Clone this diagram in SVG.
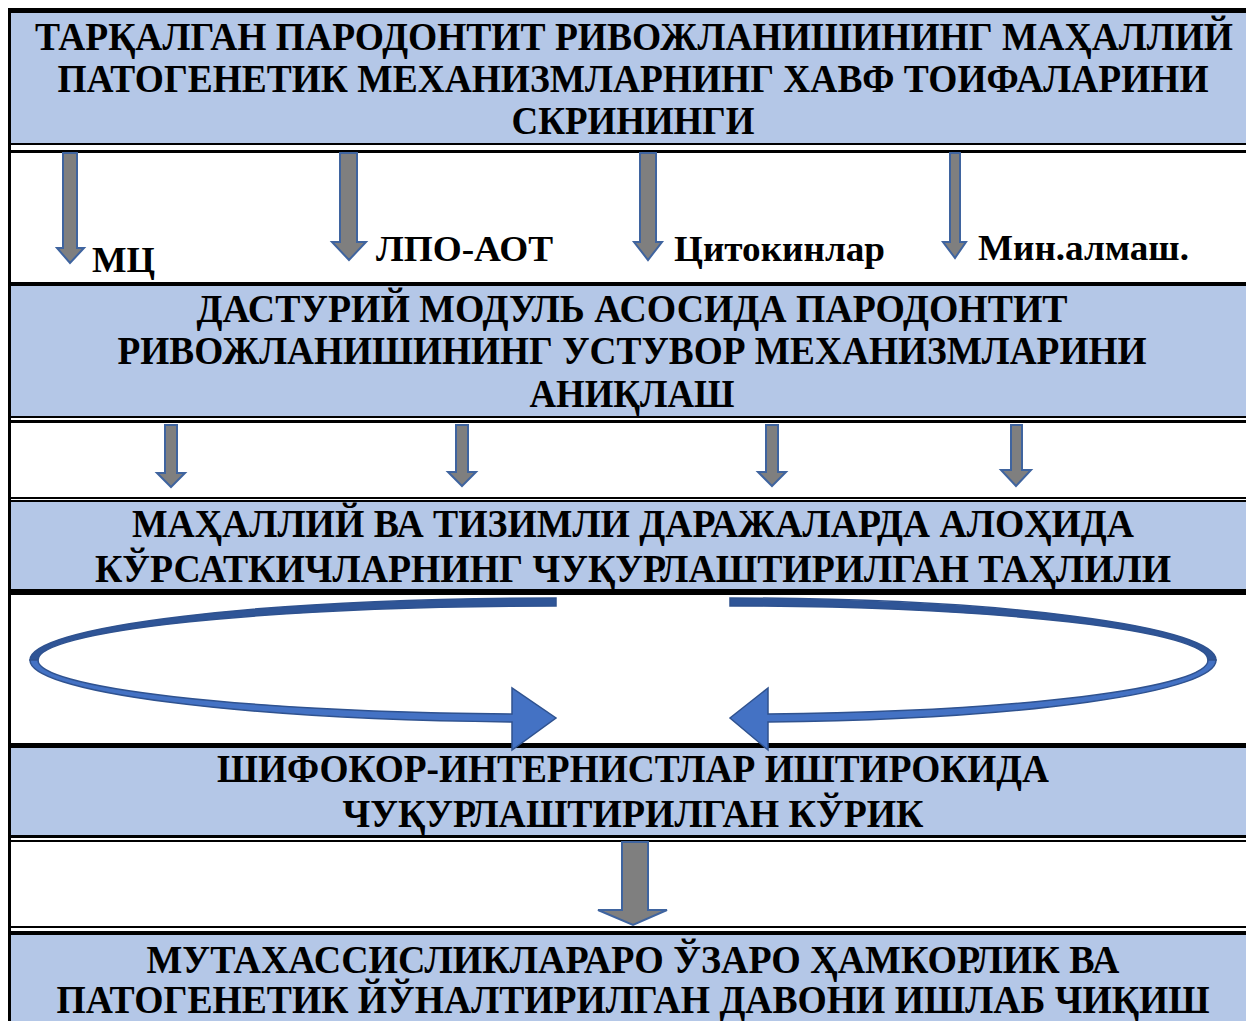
<svg xmlns="http://www.w3.org/2000/svg" width="1246" height="1021" viewBox="0 0 1246 1021">
<style>
.band{fill:#B4C7E7}
.ln{fill:#000}
.t{font-family:"Liberation Serif","Times New Roman",serif;font-weight:bold;font-size:39px;fill:#000;text-anchor:middle}
.lb{font-family:"Liberation Serif","Times New Roman",serif;font-weight:bold;font-size:36px;fill:#000}
.ga{fill:#7F7F7F;stroke:#3F649F;stroke-width:2;stroke-linejoin:miter}
.ca{fill:#4472C4;stroke:#2F528F;stroke-width:1.5;stroke-linejoin:miter}
.cb{fill:#2F5597;stroke:#2F528F;stroke-width:1.5;stroke-linejoin:miter}
</style>
<rect width="1246" height="1021" fill="#fff"/>
<g id="table">
<rect class="band" x="11" y="13" width="1235" height="131"/>
<rect class="band" x="11" y="286" width="1235" height="131"/>
<rect class="band" x="11" y="501" width="1235" height="89"/>
<rect class="band" x="11" y="747" width="1235" height="89"/>
<rect class="band" x="11" y="934" width="1235" height="87"/>
<rect class="ln" x="8" y="8" width="1238" height="5"/>
<rect class="ln" x="8" y="8" width="3" height="1013"/>
<rect class="ln" x="8" y="143" width="1238" height="2"/>
<rect class="ln" x="8" y="150" width="1238" height="3"/>
<rect class="ln" x="8" y="282" width="1238" height="4"/>
<rect class="ln" x="8" y="416" width="1238" height="2"/>
<rect class="ln" x="8" y="420" width="1238" height="3"/>
<rect class="ln" x="8" y="497" width="1238" height="2"/>
<rect class="ln" x="8" y="500" width="1238" height="2"/>
<rect class="ln" x="8" y="589" width="1238" height="6"/>
<rect class="ln" x="8" y="743" width="1238" height="5"/>
<rect class="ln" x="8" y="835" width="1238" height="3"/>
<rect class="ln" x="8" y="840" width="1238" height="2"/>
<rect class="ln" x="8" y="926" width="1238" height="2"/>
<rect class="ln" x="8" y="931" width="1238" height="4"/>
</g>
<g id="node1">
<text class="t" x="634" y="50" textLength="1198" lengthAdjust="spacingAndGlyphs">ТАРҚАЛГАН ПАРОДОНТИТ РИВОЖЛАНИШИНИНГ МАҲАЛЛИЙ</text>
<text class="t" x="633" y="92" textLength="1151" lengthAdjust="spacingAndGlyphs">ПАТОГЕНЕТИК МЕХАНИЗМЛАРНИНГ ХАВФ ТОИФАЛАРИНИ</text>
<text class="t" x="633" y="134" textLength="243" lengthAdjust="spacingAndGlyphs">СКРИНИНГИ</text>
</g>
<g id="node2">
<text class="t" x="632" y="322" textLength="871" lengthAdjust="spacingAndGlyphs">ДАСТУРИЙ МОДУЛЬ АСОСИДА ПАРОДОНТИТ</text>
<text class="t" x="632" y="364" textLength="1029" lengthAdjust="spacingAndGlyphs">РИВОЖЛАНИШИНИНГ УСТУВОР МЕХАНИЗМЛАРИНИ</text>
<text class="t" x="632" y="407" textLength="205" lengthAdjust="spacingAndGlyphs">АНИҚЛАШ</text>
</g>
<g id="node3">
<text class="t" x="633" y="537" textLength="1002" lengthAdjust="spacingAndGlyphs">МАҲАЛЛИЙ ВА ТИЗИМЛИ ДАРАЖАЛАРДА АЛОҲИДА</text>
<text class="t" x="633" y="582" textLength="1076" lengthAdjust="spacingAndGlyphs">КЎРСАТКИЧЛАРНИНГ ЧУҚУРЛАШТИРИЛГАН ТАҲЛИЛИ</text>
</g>
<g id="node4">
<text class="t" x="633" y="782" textLength="832" lengthAdjust="spacingAndGlyphs">ШИФОКОР-ИНТЕРНИСТЛАР ИШТИРОКИДА</text>
<text class="t" x="633" y="827" textLength="581" lengthAdjust="spacingAndGlyphs">ЧУҚУРЛАШТИРИЛГАН КЎРИК</text>
</g>
<g id="node5">
<text class="t" x="633" y="973" textLength="973" lengthAdjust="spacingAndGlyphs">МУТАХАССИСЛИКЛАРАРО ЎЗАРО ҲАМКОРЛИК ВА</text>
<text class="t" x="633" y="1013" textLength="1153" lengthAdjust="spacingAndGlyphs">ПАТОГЕНЕТИК ЙЎНАЛТИРИЛГАН ДАВОНИ ИШЛАБ ЧИҚИШ</text>
</g>
<g id="labels">
<text class="lb" x="92" y="272" textLength="63" lengthAdjust="spacingAndGlyphs">МЦ</text>
<text class="lb" x="376" y="261" textLength="177" lengthAdjust="spacingAndGlyphs">ЛПО-АОТ</text>
<text class="lb" x="674" y="261" textLength="211" lengthAdjust="spacingAndGlyphs">Цитокинлар</text>
<text class="lb" x="978" y="260" textLength="211" lengthAdjust="spacingAndGlyphs">Мин.алмаш.</text>
</g>
<g id="connectors">
<polygon class="ga" points="63,153 77,153 77,248 84,248 70,263 57,248 63,248"/>
<polygon class="ga" points="340,153 357,153 357,242 366,242 349,260 332,242 340,242"/>
<polygon class="ga" points="640,153 656,153 656,242 662,242 648,260 634,242 640,242"/>
<polygon class="ga" points="950,153 960,153 960,242 966,242 955,258 943,242 950,242"/>
<polygon class="ga" points="165,425 177,425 177,473 185,473 171,487 157,473 165,473"/>
<polygon class="ga" points="456,425 468,425 468,472 476,472 462,486 448,472 456,472"/>
<polygon class="ga" points="766,425 778,425 778,472 786,472 772,486 758,472 766,472"/>
<polygon class="ga" points="1011,425 1022,425 1022,470 1031,470 1016,486 1001,470 1011,470"/>
<polygon class="ga" points="622,842 648,842 648,910 667,910 633,925 598,910 622,910"/>
<path class="cb" d="M556,598 A526,62 0 0 0 30,660 L38,660 A518,54 0 0 1 556,606 Z"/>
<path class="ca" d="M30,660 A526,62 0 0 0 512,722 L512,750 L556,718 L512,688 L512,714 A518,54 0 0 1 38,660 Z"/>
<path class="cb" d="M730,598 A486,62 0 0 1 1216,660 L1208,660 A478,54 0 0 0 730,606 Z"/>
<path class="ca" d="M1216,660 A486,62 0 0 1 768,722 L768,750 L730,718 L768,688 L768,714 A478,54 0 0 0 1208,660 Z"/>
</g>
</svg>
